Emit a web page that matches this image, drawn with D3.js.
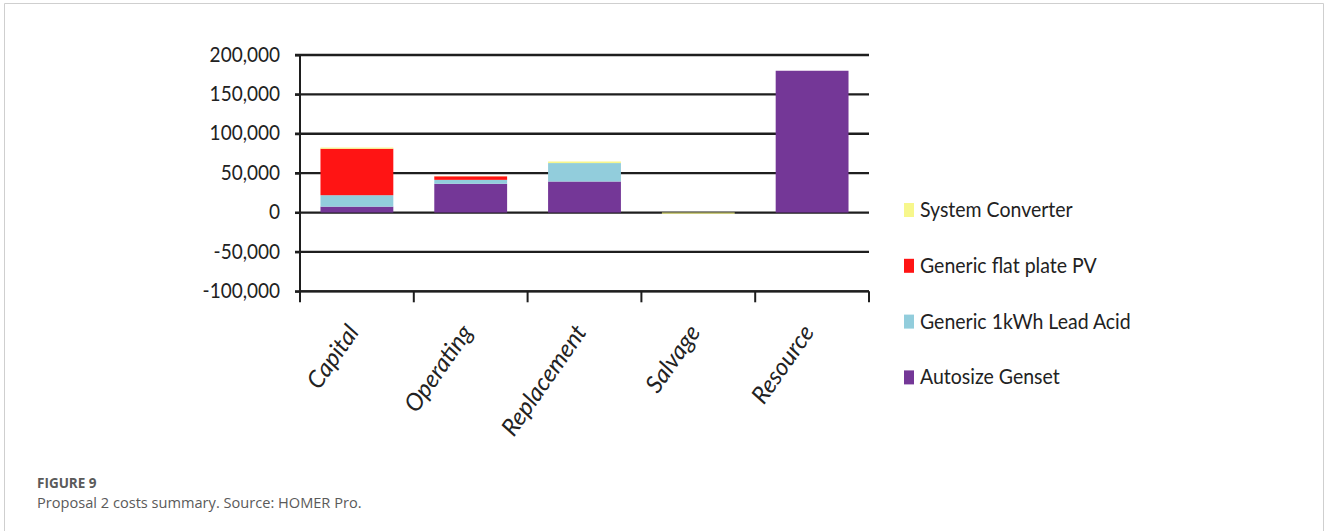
<!DOCTYPE html>
<html>
<head>
<meta charset="utf-8">
<script src="https://cdn.jsdelivr.net/npm/d3@7"></script>
<style>
  html, body { margin: 0; padding: 0; background: #fff; }
  svg { display: block; }
</style>
</head>
<body>
<svg id="chart" width="1328" height="531"></svg>
<script>
// ---- data ----
const categories = ["Capital", "Operating", "Replacement", "Salvage", "Resource"];
const seriesNames = ["Autosize Genset", "Generic 1kWh Lead Acid", "Generic flat plate PV", "System Converter"];
const autosizeGenset = [7500, 36500, 39400, 0, 180000];
const leadAcid = [14500, 5000, 23400, 0, 0];
const flatPlatePV = [59000, 4500, 0, 0, 0];
const systemConverter = [1500, 300, 2000, -1500, 0];
const yTickValues = [-100000, -50000, 0, 50000, 100000, 150000, 200000];
const legendOrder = ["System Converter", "Generic flat plate PV", "Generic 1kWh Lead Acid", "Autosize Genset"];
const seriesColors = ["#743797", "#92CDDC", "#FF1414", "#F7F78C"];

const svg = d3.select("#chart");
const FONT = "Lato, 'Open Sans', sans-serif";

// frame
svg.append("path")
  .attr("d", "M4.5,540 V3.5 H1323.5 V540")
  .attr("fill", "none").attr("stroke", "#cfcfcf").attr("stroke-width", 1);

const x = d3.scaleBand().domain(categories).range([300, 869]).paddingInner(0.36).paddingOuter(0.18);
const y = d3.scaleLinear().domain([-100000, 200000]).range([291.3, 55]);
const color = d3.scaleOrdinal().domain(seriesNames).range(seriesColors);

// gridlines
svg.append("g").selectAll("line").data(yTickValues).join("line")
  .attr("x1", 295).attr("x2", 869)
  .attr("y1", d => y(d)).attr("y2", d => y(d))
  .attr("stroke", "#1e1e1e").attr("stroke-width", 2.3);

// stacked bars
const rows = categories.map((c, i) => ({
  category: c,
  "Autosize Genset": autosizeGenset[i],
  "Generic 1kWh Lead Acid": leadAcid[i],
  "Generic flat plate PV": flatPlatePV[i],
  "System Converter": systemConverter[i]
}));
const stacked = d3.stack().keys(seriesNames).offset(d3.stackOffsetDiverging)(rows);

svg.append("g").selectAll("g").data(stacked).join("g")
  .attr("fill", d => color(d.key))
  .selectAll("rect").data(d => d).join("rect")
  .attr("x", d => x(d.data.category))
  .attr("width", x.bandwidth())
  .attr("y", d => y(Math.max(d[0], d[1])))
  .attr("height", d => Math.abs(y(d[0]) - y(d[1])));

// y axis
const yAxis = svg.append("g").attr("transform", "translate(300,0)")
  .call(d3.axisLeft(y).tickValues(yTickValues).tickSize(5).tickPadding(15)
    .tickFormat(d => d3.format(",")(d).replace("\u2212", "-")));
yAxis.select(".domain").attr("stroke", "#1e1e1e").attr("stroke-width", 2)
  .attr("d", "M0," + y(200000) + "V" + y(-100000));
yAxis.selectAll(".tick line").attr("stroke", "#1e1e1e").attr("stroke-width", 2);
yAxis.selectAll(".tick text").attr("font-family", FONT).attr("font-size", 19).attr("fill", "#222")
  .attr("dy", "0.29em").attr("transform", "scale(1,1.12)");

// x axis (category boundaries)
const xAxisG = svg.append("g");
xAxisG.append("line").attr("x1", 300).attr("x2", 869).attr("y1", y(-100000)).attr("y2", y(-100000))
  .attr("stroke", "#1e1e1e").attr("stroke-width", 2);
const boundaries = categories.map(c => x(c) - x.step() * x.paddingInner() / 2);
boundaries.push(x(categories[categories.length - 1]) + x.bandwidth() + x.step() * x.paddingInner() / 2);
xAxisG.selectAll("line.tk").data(boundaries).join("line").attr("class", "tk")
  .attr("x1", d => d).attr("x2", d => d)
  .attr("y1", y(-100000)).attr("y2", y(-100000) + 11)
  .attr("stroke", "#1e1e1e").attr("stroke-width", 2);

svg.append("g").selectAll("text").data(categories).join("text")
  .attr("transform", d => `translate(${x(d) + x.bandwidth() / 2 + 3},${y(-100000) + 41}) rotate(-55)`)
  .attr("text-anchor", "end")
  .attr("font-family", FONT).attr("font-style", "italic").attr("font-size", 24).attr("fill", "#222")
  .text(d => d);

// legend
const lg = svg.append("g").selectAll("g").data(legendOrder).join("g")
  .attr("transform", (d, i) => `translate(904,${210 + i * 55.8})`);
lg.append("rect").attr("x", 0).attr("y", -7).attr("width", 10).attr("height", 14).attr("fill", d => color(d));
lg.append("text").attr("x", 16).attr("y", 6.3).attr("transform", "scale(1,1.12)")
  .attr("font-family", FONT).attr("font-size", 19.5).attr("fill", "#222").text(d => d);

// caption
svg.append("text").attr("x", 37).attr("y", 488)
  .attr("font-family", "'Open Sans', sans-serif").attr("font-weight", "bold").attr("font-size", 13.5)
  .attr("fill", "#5a5a5a").text("FIGURE 9");
svg.append("text").attr("x", 37).attr("y", 508)
  .attr("font-family", "'Open Sans', sans-serif").attr("font-size", 14.6)
  .attr("fill", "#5a5a5a").text("Proposal 2 costs summary. Source: HOMER Pro.");
</script>
</body>
</html>
